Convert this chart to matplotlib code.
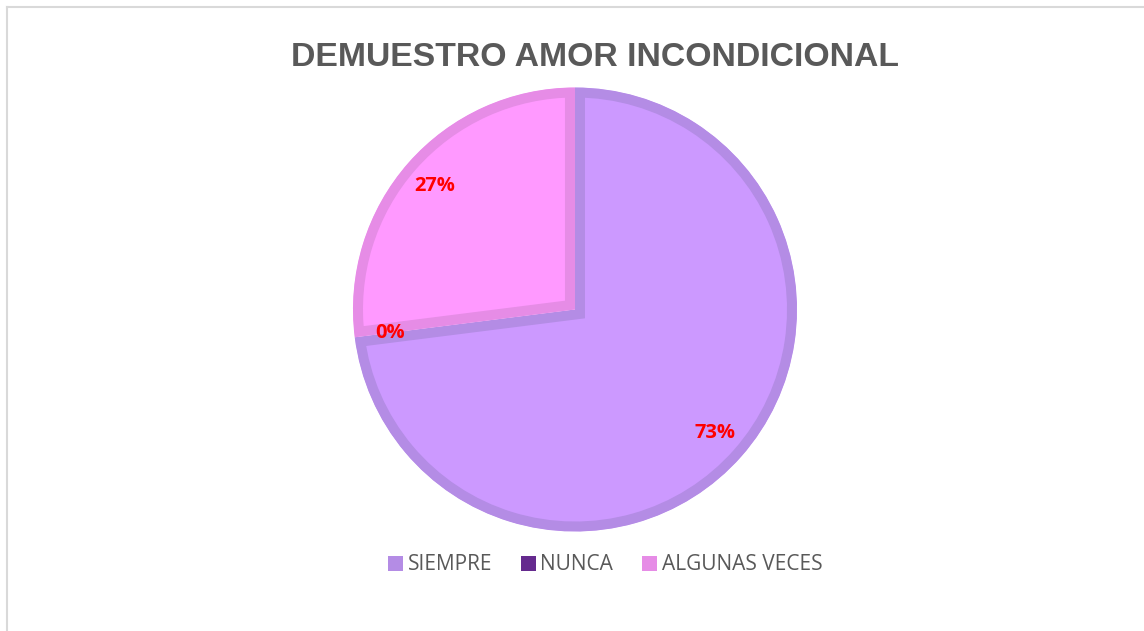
import matplotlib
matplotlib.use("Agg")
import matplotlib.pyplot as plt
from matplotlib.lines import Line2D
from matplotlib.patches import Patch

categories = ["SIEMPRE", "NUNCA", "ALGUNAS VECES"]
values = [73, 0, 27]
fill_colors = ["#CC99FF", "#7030A0", "#FF99FF"]
edge_colors = ["#B48CE5", "#652A8E", "#E68CE6"]
legend_colors = ["#B48CE5", "#652A8E", "#E68CE6"]
title = "DEMUESTRO AMOR INCONDICIONAL"

W, H = 1144, 631
fig = plt.figure(figsize=(W / 100, H / 100), dpi=100)
ax = fig.add_axes([0, 0, 1, 1])

cx, cy, r = 575, H - 309.5, 222
wedges, texts, autotexts = ax.pie(
    values, colors=fill_colors, startangle=90, counterclock=False,
    center=(cx, cy), radius=r, explode=[0, 0, 0.012],
    autopct="%1.0f%%", pctdistance=0.84,
    textprops=dict(color="#FF0000", fontsize=14.5, fontweight="bold",
                   family=["Open Sans", "DejaVu Sans"]))

ax.set_xlim(0, W)
ax.set_ylim(0, H)
ax.set_aspect("equal")
ax.axis("off")

for w, ec in zip(wedges, edge_colors):
    w.set_edgecolor(ec)
    w.set_linewidth(20 * 72 / 100)
    w.set_joinstyle("miter")
    w.set_clip_on(True)
    w.set_clip_path(w.get_path(), ax.transData)

fig.text(595 / W, 1 - 57 / H, title, ha="center", va="center",
         fontsize=24.3, fontweight="bold", color="#595959",
         family=["Liberation Sans", "DejaVu Sans"])

handles = [Patch(facecolor=c, edgecolor="none") for c in legend_colors]
fig.legend(handles, categories, loc="center", bbox_to_anchor=(605 / W, 1 - 565 / H),
           ncol=3, frameon=False, handlelength=0.72, handleheight=0.72,
           handletextpad=0.24, columnspacing=1.35,
           prop=dict(family=["Open Sans", "DejaVu Sans"], size=15),
           labelcolor="#595959")

fig.add_artist(Line2D([7 / W, 7 / W], [0, 1 - 7 / H], color="#D9D9D9", lw=1.5))
fig.add_artist(Line2D([7 / W, 1], [1 - 7 / H, 1 - 7 / H], color="#D9D9D9", lw=1.5))

fig.savefig("out.png", dpi=100, facecolor="white")
